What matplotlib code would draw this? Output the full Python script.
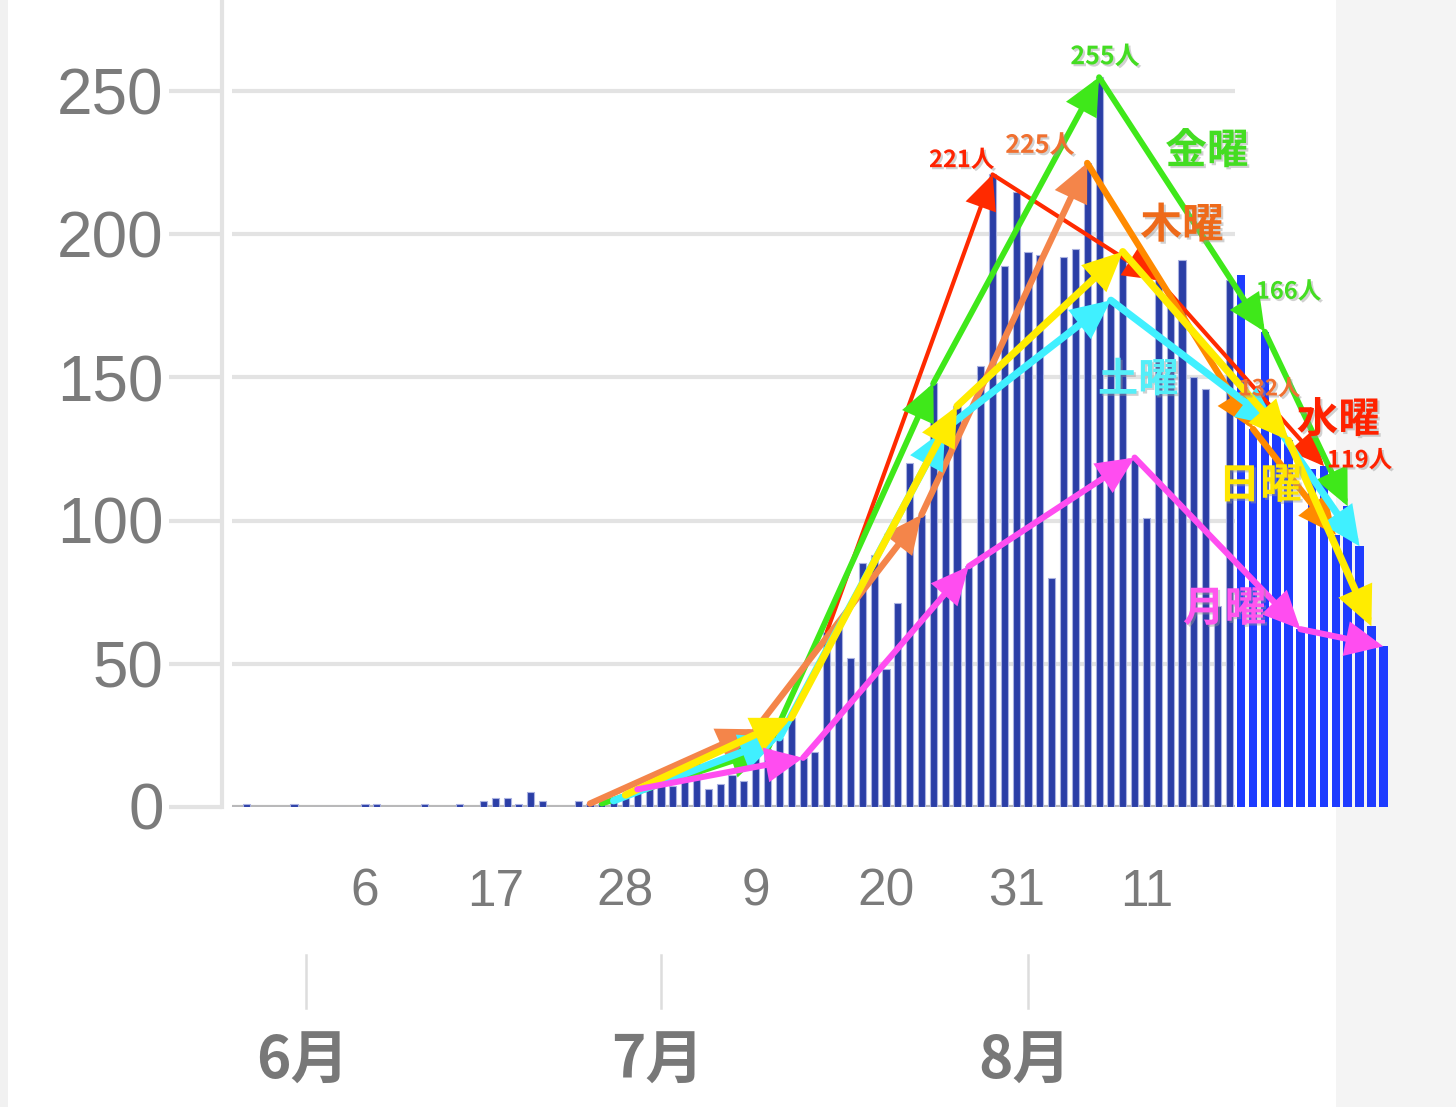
import matplotlib
matplotlib.use('Agg')
import matplotlib.pyplot as plt
import matplotlib.dates as mdates
import matplotlib.patheffects as pe
from matplotlib.patches import Rectangle
from matplotlib.transforms import blended_transform_factory
import pandas as pd

# ---------------- data ----------------
may_cases = [0, 1, 0, 0, 0, 1]                                   # May 26-31
june_cases = [0, 0, 0, 0, 0, 1, 1, 0, 0, 0, 1, 0, 0, 1, 0,
              2, 3, 3, 1, 5, 2, 0, 0, 2, 1, 1, 2, 4, 6, 7]
july_cases = [9, 7, 9, 16, 6, 8, 11, 9, 27, 20, 24, 31, 17, 19, 61, 65,
              52, 85, 88, 48, 71, 120, 102, 148, 132, 140, 84, 154, 221, 189, 215]
aug_cases = [194, 193, 80, 192, 195, 225, 255, 177, 194, 122, 101, 184, 175,
             191, 150, 146, 70, 184, 186, 132, 166, 133, 128, 62, 118, 119,
             95, 105, 91, 63, 56]

day_ticks = ['2020-06-06', '2020-06-17', '2020-06-28', '2020-07-09',
             '2020-07-20', '2020-07-31', '2020-08-11']
day_tick_labels = ['6', '17', '28', '9', '20', '31', '11']
month_starts = ['2020-06-01', '2020-07-01', '2020-08-01']
month_labels = ['6月', '7月', '8月']
y_ticks = [0, 50, 100, 150, 200, 250]

# weekday comparison arrows (dates of same weekday)
wed_dates = ['2020-07-15', '2020-07-29', '2020-08-12', '2020-08-26']
thu_dates = ['2020-06-25', '2020-07-09', '2020-07-23', '2020-08-06', '2020-08-20', '2020-08-27']
fri_dates = ['2020-06-26', '2020-07-10', '2020-07-24', '2020-08-07', '2020-08-21', '2020-08-28']
sat_dates = ['2020-06-27', '2020-07-11', '2020-07-25', '2020-08-08', '2020-08-22', '2020-08-29']
sun_dates = ['2020-06-28', '2020-07-12', '2020-07-26', '2020-08-09', '2020-08-23', '2020-08-30']
mon_dates = ['2020-06-29', '2020-07-13', '2020-07-27', '2020-08-10', '2020-08-24', '2020-08-31']

# ---------------- build ----------------
cases = may_cases + june_cases + july_cases + aug_cases
dates = pd.date_range('2020-05-26', periods=len(cases), freq='D')
series = pd.Series(cases, index=dates)
xnum = mdates.date2num(dates)
origin = mdates.date2num(pd.Timestamp('2020-06-06'))

W, H = 1456, 1107
fig = plt.figure(figsize=(W / 100, H / 100), dpi=100)
fig.patch.set_facecolor('white')
# light grey margins of the screenshot
fig.patches.append(Rectangle((1336 / W, 0), 1 - 1336 / W, 1, transform=fig.transFigure,
                             facecolor='#f4f4f4', edgecolor='none', zorder=-5))
fig.patches.append(Rectangle((0, 0), 8 / W, 1, transform=fig.transFigure,
                             facecolor='#f1f1f1', edgecolor='none', zorder=-5))

ax_left, ax_right, ax_bottom = 222, 1440, 806.5
ax = fig.add_axes([ax_left / W, (H - ax_bottom) / H, (ax_right - ax_left) / W, ax_bottom / H])
ax.set_zorder(2)
ax.set_facecolor('none')
px_per_day = 11.84
ax.set_xlim(origin + (ax_left - 365) / px_per_day, origin + (ax_right - 365) / px_per_day)
ax.set_ylim(0, ax_bottom / 2.86)

grid_end = mdates.date2num(pd.Timestamp('2020-08-18')) + 0.5
grid_start = origin + (232 - 365) / px_per_day
ax.hlines([50, 100, 150, 200, 250], grid_start, grid_end, colors='#e3e3e3', lw=3, zorder=0)
ax.hlines([0], grid_start, grid_end, colors='#b9b9b9', lw=3, zorder=1)

# bars
cut = pd.Timestamp('2020-08-19')
dark = dates < cut
ax.bar(xnum[dark], series.values[dark], width=0.6, color='#2b3ea6',
       edgecolor='#aab2e0', linewidth=0.8, zorder=2)
ax.bar(xnum[~dark], series.values[~dark], width=0.72, color='#1e3cff',
       edgecolor='none', zorder=2)

# spines & ticks
for s in ['top', 'right', 'bottom']:
    ax.spines[s].set_visible(False)
ax.spines['left'].set_color('#e3e3e3')
ax.spines['left'].set_linewidth(3)
ax.set_yticks(y_ticks)
ax.set_yticklabels([str(v) for v in y_ticks])
ax.tick_params(axis='y', length=38, width=3, color='#e3e3e3', pad=4,
               labelsize=46, labelcolor='#7b7b7b')
for t in ax.get_yticklabels():
    t.set_fontfamily(['Liberation Sans', 'DejaVu Sans'])

ax.set_xticks(mdates.date2num(pd.to_datetime(day_ticks)))
ax.set_xticklabels(day_tick_labels)
ax.tick_params(axis='x', length=0, pad=44, labelsize=37, labelcolor='#7b7b7b')
for t in ax.get_xticklabels():
    t.set_fontfamily(['Liberation Sans Narrow', 'Liberation Sans', 'DejaVu Sans'])

# month labels and separators
btr = blended_transform_factory(ax.transData, ax.transAxes)
def yfrac(py):
    return (ax_bottom - py) / ax_bottom
for d, lab in zip(month_starts, month_labels):
    xm = mdates.date2num(pd.Timestamp(d))
    ax.plot([xm, xm], [yfrac(955), yfrac(1008)], transform=btr, color='#dddddd',
            lw=1.8, clip_on=False)
    ax.text(xm - 0.3, yfrac(1062), lab, transform=btr, ha='center', va='center',
            fontsize=42, fontweight='bold', color='#787878',
            family=['Noto Sans CJK JP', 'DejaVu Sans'])

# arrows
arrow_specs = [
    (wed_dates, ['#ff2a00'] * 3, 3.0),
    (fri_dates, ['#3fe81a'] * 5, 4.2),
    (thu_dates, ['#f4854a'] * 3 + ['#ff8a00'] * 2, 4.6),
    (sat_dates, ['#40f0ff'] * 5, 5.2),
    (sun_dates, ['#ffec00'] * 5, 5.2),
    (mon_dates, ['#ff4df0'] * 5, 4.4),
]
for dlist, cols, lw in arrow_specs:
    xs = mdates.date2num(pd.to_datetime(dlist))
    ys = [series[pd.Timestamp(d)] for d in dlist]
    for i in range(len(xs) - 1):
        ax.annotate('', xy=(xs[i + 1], ys[i + 1]), xytext=(xs[i], ys[i]),
                    arrowprops=dict(arrowstyle='-|>,head_length=0.9,head_width=0.42',
                                    color=cols[i], lw=lw, shrinkA=0, shrinkB=0,
                                    mutation_scale=22, joinstyle='miter'),
                    zorder=5, annotation_clip=False)

# annotation texts
shadow = [pe.withSimplePatchShadow(offset=(1.5, -1.5), shadow_rgbFace='#999999', alpha=0.45)]
labels = [
    ('255人', '#44dd22', 62.5, 262, 18),
    ('225人', '#f07030', 57.0, 231, 18),
    ('221人', '#ff2200', 50.4, 226, 17),
    ('金曜', '#44dd22', 71.1, 229, 30),
    ('木曜', '#ee6a1a', 69.0, 203, 30),
    ('土曜', '#55eef8', 65.3, 149, 29),
    ('166人', '#44dd22', 78.0, 180, 17),
    ('132人', '#f07030', 76.4, 146, 16),
    ('水曜', '#ff2200', 82.2, 135, 30),
    ('119人', '#ff2200', 84.0, 121, 17),
    ('日曜', '#ffe600', 75.6, 112, 30),
    ('月曜', '#ff55ee', 72.6, 69, 30),
]
for txt, col, d, v, fs in labels:
    ax.text(origin + d, v, txt, color=col, fontsize=fs, fontweight='bold',
            ha='center', va='center', zorder=6, path_effects=shadow,
            family=['Noto Sans CJK JP', 'DejaVu Sans'])

fig.savefig('out.png', dpi=100, facecolor=fig.get_facecolor())
